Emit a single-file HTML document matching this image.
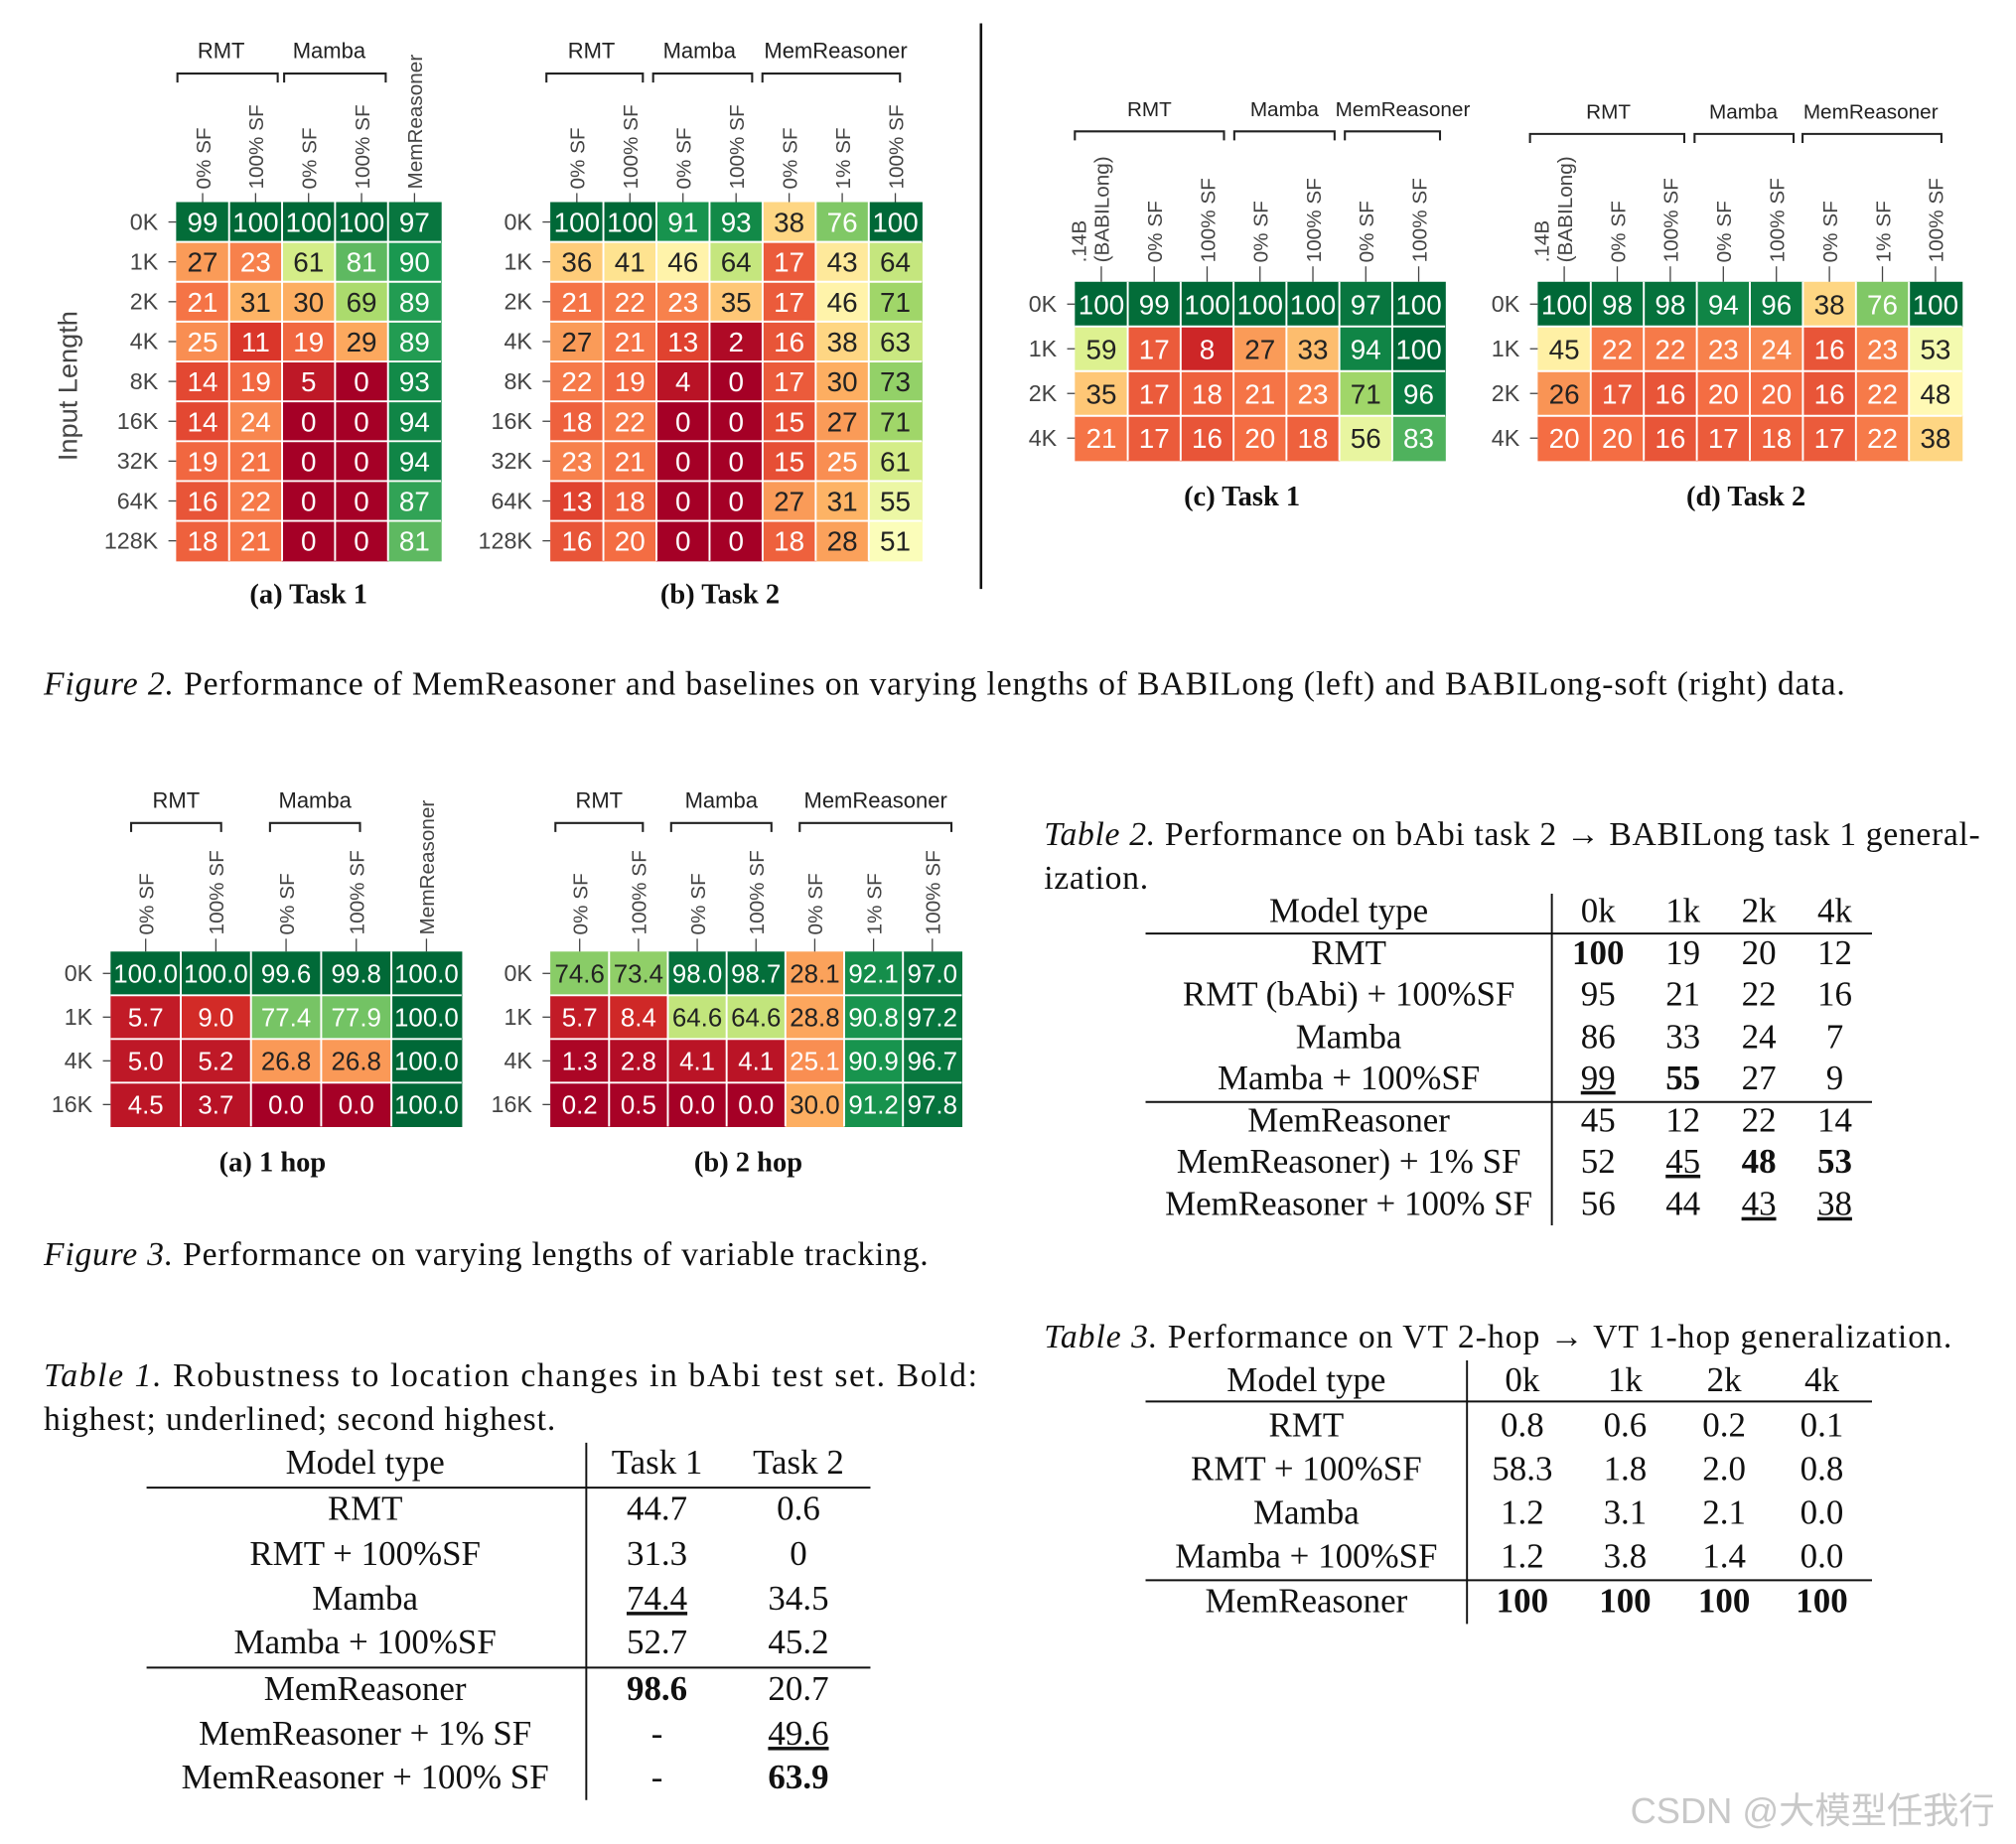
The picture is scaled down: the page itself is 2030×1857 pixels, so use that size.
<!DOCTYPE html>
<html><head><meta charset="utf-8"><style>
html,body{margin:0;padding:0;background:#fff;}
svg{display:block;}
.sf{font-family:"Liberation Serif",serif;}
.ss{font-family:"Liberation Sans",sans-serif;}
</style></head><body>
<svg id="root" width="2030" height="1857" viewBox="0 0 1568 1434" xmlns="http://www.w3.org/2000/svg">
<rect width="1568" height="1434" fill="#fff"/>
</svg>
<script>
const rows2 = ["0K","1K","2K","4K","8K","16K","32K","64K","128K"];
const rows2s = ["0K","1K","2K","4K"];
const rows3 = ["0K","1K","4K","16K"];
const cols2a = ["0% SF","100% SF","0% SF","100% SF","MemReasoner"];
const cols2b = ["0% SF","100% SF","0% SF","100% SF","0% SF","1% SF","100% SF"];
const cols2c = [".14B|(BABILong)","0% SF","100% SF","0% SF","100% SF","0% SF","100% SF"];
const cols2d = [".14B|(BABILong)","0% SF","100% SF","0% SF","100% SF","0% SF","1% SF","100% SF"];
const vals2a = [[99,100,100,100,97],[27,23,61,81,90],[21,31,30,69,89],[25,11,19,29,89],[14,19,5,0,93],[14,24,0,0,94],[19,21,0,0,94],[16,22,0,0,87],[18,21,0,0,81]];
const vals2b = [[100,100,91,93,38,76,100],[36,41,46,64,17,43,64],[21,22,23,35,17,46,71],[27,21,13,2,16,38,63],[22,19,4,0,17,30,73],[18,22,0,0,15,27,71],[23,21,0,0,15,25,61],[13,18,0,0,27,31,55],[16,20,0,0,18,28,51]];
const vals2c = [[100,99,100,100,100,97,100],[59,17,8,27,33,94,100],[35,17,18,21,23,71,96],[21,17,16,20,18,56,83]];
const vals2d = [[100,98,98,94,96,38,76,100],[45,22,22,23,24,16,23,53],[26,17,16,20,20,16,22,48],[20,20,16,17,18,17,22,38]];
const vals3a = [[100.0,100.0,99.6,99.8,100.0],[5.7,9.0,77.4,77.9,100.0],[5.0,5.2,26.8,26.8,100.0],[4.5,3.7,0.0,0.0,100.0]];
const vals3b = [[74.6,73.4,98.0,98.7,28.1,92.1,97.0],[5.7,8.4,64.6,64.6,28.8,90.8,97.2],[1.3,2.8,4.1,4.1,25.1,90.9,96.7],[0.2,0.5,0.0,0.0,30.0,91.2,97.8]];

const NS="http://www.w3.org/2000/svg";
const root=document.getElementById('root');
function el(tag,attrs,parent,text){const e=document.createElementNS(NS,tag);for(const k in attrs)e.setAttribute(k,attrs[k]);if(text!==undefined)e.textContent=text;(parent||root).appendChild(e);return e;}
const stops=["#a50026","#d73027","#f46d43","#fdae61","#fee08b","#ffffbf","#d9ef8b","#a6d96a","#66bd63","#1a9850","#006837"];
function hx(c){return [1,3,5].map(i=>parseInt(c.substr(i,2),16));}
function cmap(v){let t=Math.max(0,Math.min(1,v/100))*10;let i=Math.min(9,Math.floor(t));let f=t-i;const a=hx(stops[i]),b=hx(stops[i+1]);const c=a.map((x,k)=>Math.round(x+(b[k]-x)*f));return {s:`rgb(${c})`,l:(0.299*c[0]+0.587*c[1]+0.114*c[2])};}

function heat(name,vals,rowsL,cols,x0,x1,y0,y1,opt){
  const g=el('g',{});
  
  
  const nr=vals.length,nc=vals[0].length;
  const cw=(x1-x0)/nc,rh=(y1-y0)/nr;
  const xs=j=>x0+j*cw, ys=i=>y0+i*rh;
  vals.forEach((r,i)=>r.forEach((v,j)=>{
    const c=cmap(v);
    const rc=el('rect',{x:xs(j),y:ys(i),width:cw+0.5,height:rh+0.5,fill:c.s},g);
    
    
    const t=el('text',{x:xs(j)+cw/2,y:ys(i)+rh/2+opt.fs*0.36,'text-anchor':'middle','font-size':opt.fs,fill:c.l>170?'#222':'#fff',class:'ss'},g,opt.dec?v.toFixed(1):String(v));
    
    
  }));
  for(let j=1;j<nc;j++)el('line',{x1:xs(j),x2:xs(j),y1:y0,y2:y1,stroke:'#fff','stroke-width':1.5},g);
  for(let i=1;i<nr;i++)el('line',{x1:x0,x2:x1,y1:ys(i),y2:ys(i),stroke:'#fff','stroke-width':1.5},g);
  rowsL.forEach((l,i)=>{
    el('line',{x1:x0-6,x2:x0,y1:ys(i)+rh/2,y2:ys(i)+rh/2,stroke:'#444'},g);
    const t=el('text',{x:x0-14,y:ys(i)+rh/2+6,'text-anchor':'end','font-size':18,fill:'#444',class:'ss'},g,l);
    
    
  });
  cols.forEach((l,j)=>{
    const cx=xs(j)+cw/2;
    el('line',{x1:cx,x2:cx,y1:y0-opt.tk,y2:y0,stroke:'#444'},g);
    const parts=l.split('|');
    parts.forEach((p,k)=>{
      const off=(k-(parts.length-1))*18+6;
      const t=el('text',{transform:`translate(${cx+off},${y0-opt.tk-3}) rotate(-90)`,'text-anchor':'start','font-size':16,fill:'#444',class:'ss'},g,p);
      
      
    });
  });
  opt.groups.forEach(gr=>{
    const [lab,a,b,lx]=gr;
    el('path',{d:`M${a},${opt.by+7}V${opt.by}H${b}V${opt.by+7}`,fill:'none',stroke:'#222','stroke-width':1.6},g);
    const t=el('text',{x:lx||(a+b)/2,y:opt.by-12,'text-anchor':'middle','font-size':opt.gfs||17,fill:'#222',class:'ss'},g,lab);
    
    
  });
  const cap=el('text',{x:opt.cx,y:opt.cy,'text-anchor':'middle','font-size':22,'font-weight':'bold',fill:'#111',class:'sf'},g,opt.cap);
  
  
}
heat('heatmap-2a',vals2a,rows2,cols2a,137,343,157,436,{fs:21.5,tk:7,by:57,groups:[['RMT',138,216,172],['Mamba',221,300,256]],cap:'(a) Task 1',cx:240,cy:469});
heat('heatmap-2b',vals2b,rows2,cols2b,428,717,157,436,{fs:21.5,tk:7,by:57,groups:[['RMT',425,500,460],['Mamba',508,585,544],['MemReasoner',593,700,650]],cap:'(b) Task 2',cx:560,cy:469});
heat('heatmap-2c',vals2c,rows2s,cols2c,836,1124,219,358,{fs:21.5,tk:12,by:102,gfs:16,groups:[['RMT',836,952,894],['Mamba',960,1038,999],['MemReasoner',1046,1120,1091]],cap:'(c) Task 1',cx:966,cy:393});
heat('heatmap-2d',vals2d,rows2s,cols2d,1196,1526,219,358,{fs:21.5,tk:12,by:104,gfs:16,groups:[['RMT',1190,1310,1251],['Mamba',1318,1395,1356],['MemReasoner',1402,1510,1455]],cap:'(d) Task 2',cx:1358,cy:393});
heat('heatmap-3a',vals3a,rows3,cols2a,86,359,740,876,{fs:20,dec:true,tk:10,by:640,groups:[['RMT',102,172],['Mamba',210,280]],cap:'(a) 1 hop',cx:212,cy:911});
heat('heatmap-3b',vals3b,rows3,cols2b,428,748,740,876,{fs:20,dec:true,tk:10,by:640,groups:[['RMT',432,500],['Mamba',522,600],['MemReasoner',622,740]],cap:'(b) 2 hop',cx:582,cy:911});

let yl=el('text',{transform:'translate(60,300) rotate(-90)','text-anchor':'middle','font-size':21,fill:'#444',class:'ss'},root,'Input Length');


el('line',{x1:763,x2:763,y1:18,y2:458,stroke:'#111','stroke-width':2});

function ptext(name,x,y,parts,x2){
  const t=el('text',{x:x,y:y,'font-size':26,fill:'#111',class:'sf',textLength:x2-x,lengthAdjust:'spacing'});
  
  
  parts.forEach(p=>{const s=el('tspan',{},t,p[0]);if(p[1])s.setAttribute('font-style','italic');});
}
ptext('figure-2-caption',34,540,[['Figure 2.',1],[' Performance of MemReasoner and baselines on varying lengths of BABILong (left) and BABILong-soft (right) data.']],1435);
ptext('figure-3-caption',34,984,[['Figure 3.',1],[' Performance on varying lengths of variable tracking.']],722);
ptext('table-2-caption',812,657,[['Table 2.',1],[' Performance on bAbi task 2 → BABILong task 1 general-']],1540);
ptext('table-2-caption-2',812,691,[['ization.']],893);
ptext('table-3-caption',812,1048,[['Table 3.',1],[' Performance on VT 2-hop → VT 1-hop generalization.']],1518);
ptext('table-1-caption',34,1078,[['Table 1.',1],[' Robustness to location changes in bAbi test set.  Bold:']],760);
ptext('table-1-caption-2',34,1112,[['highest; underlined; second highest.']],432);

function table(name,hdr,rows,cx,x0,x1,vx,vy0,vy1,hy,ys,lineY,sepY){
  const g=el('g',{});
  
  
  hdr.forEach((h,j)=>el('text',{x:cx[j],y:hy,'text-anchor':'middle','font-size':27,fill:'#111',class:'sf'},g,h));
  el('line',{x1:x0,x2:x1,y1:lineY,y2:lineY,stroke:'#111','stroke-width':1.5},g);
  el('line',{x1:x0,x2:x1,y1:sepY,y2:sepY,stroke:'#111','stroke-width':1.5},g);
  el('line',{x1:vx,x2:vx,y1:vy0,y2:vy1,stroke:'#111','stroke-width':1.5},g);
  rows.forEach((r,i)=>r.forEach((c,j)=>{
    let s=String(c),b=false,u=false;
    if(s.startsWith('*')){b=true;s=s.slice(1);}
    if(s.startsWith('_')){u=true;s=s.slice(1);}
    const t=el('text',{x:cx[j],y:ys[i],'text-anchor':'middle','font-size':27,fill:'#111',class:'sf'},g,s);
    if(b)t.setAttribute('font-weight','bold');
    if(u)t.setAttribute('text-decoration','underline');
  }));
}
table('table-2',['Model type','0k','1k','2k','4k'],[
 ['RMT','*100','19','20','12'],['RMT (bAbi) + 100%SF','95','21','22','16'],['Mamba','86','33','24','7'],
 ['Mamba + 100%SF','_99','*55','27','9'],['MemReasoner','45','12','22','14'],['MemReasoner) + 1% SF','52','_45','*48','*53'],
 ['MemReasoner + 100% SF','56','44','_43','_38']],
 [1049,1243,1309,1368,1427],891,1456,1207,695,953,717,[750,782,815,847,880,912,945],726,857);
table('table-3',['Model type','0k','1k','2k','4k'],[
 ['RMT','0.8','0.6','0.2','0.1'],['RMT + 100%SF','58.3','1.8','2.0','0.8'],['Mamba','1.2','3.1','2.1','0.0'],
 ['Mamba + 100%SF','1.2','3.8','1.4','0.0'],['MemReasoner','*100','*100','*100','*100']],
 [1016,1184,1264,1341,1417],891,1456,1141,1058,1263,1082,[1117,1151,1185,1219,1254],1090,1229);
table('table-1',['Model type','Task 1','Task 2'],[
 ['RMT','44.7','0.6'],['RMT + 100%SF','31.3','0'],['Mamba','_74.4','34.5'],['Mamba + 100%SF','52.7','45.2'],
 ['MemReasoner','*98.6','20.7'],['MemReasoner + 1% SF','-','_49.6'],['MemReasoner + 100% SF','-','*63.9']],
 [284,511,621],114,677,456,1122,1400,1146,[1182,1217,1252,1286,1322,1357,1391],1157,1297);

let wm=el('text',{x:1268,y:1418,'font-size':28,fill:'#c8c8c8','font-family':'"Liberation Sans","Noto Sans CJK SC",sans-serif'},root,'CSDN @大模型任我行');


</script>
</body></html>
